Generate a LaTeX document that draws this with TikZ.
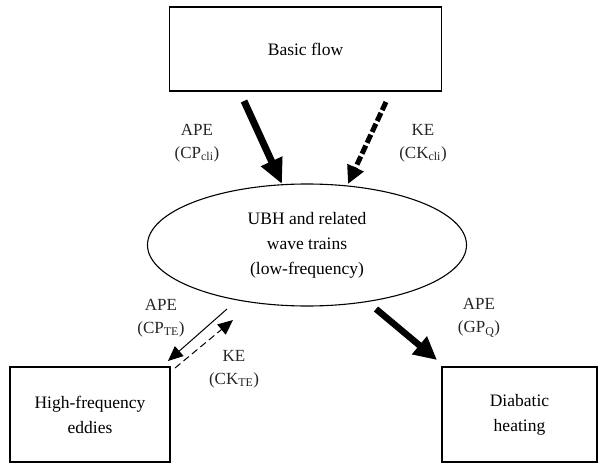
\documentclass[tikz,border=0pt]{standalone}
\usepackage{fontspec}
\setmainfont{Liberation Serif}
\usetikzlibrary{arrows.meta,shapes.geometric}
\tikzset{
	boxnode/.style={draw,line width=1.1pt,rectangle,inner sep=0pt,align=center,font=\fontsize{17.5}{25}\selectfont},
	lbl/.style={align=center,inner sep=0pt,text=black!85,font=\fontsize{17}{23}\selectfont},
	bigarrow/.style={line width=7pt,-{Triangle[length=25pt,width=22pt]}},
	bigdash/.style={line width=5pt,dash pattern=on 9pt off 3pt,-{Triangle[length=18pt,width=17pt]}},
	thinarrow/.style={line width=1pt,-{Triangle[length=15pt,width=13pt]}},
	thindash/.style={line width=1pt,dash pattern=on 7pt off 4pt,-{Triangle[length=15pt,width=13pt]}}
}
\begin{document}
\begin{tikzpicture}[x=1pt,y=-1pt]
	\useasboundingbox (0,0) rectangle (598,463);
	\node[boxnode,minimum width=272pt,minimum height=84pt] (basic) at (305.5,49){Basic flow};
	\node[boxnode,ellipse,minimum width=319pt,minimum height=122pt] (ubh) at (307,245){UBH and related\\wave trains\\(low-frequency)};
	\node[boxnode,minimum width=160pt,minimum height=95pt] (hfe) at (90,414.5){High-frequency\\eddies};
	\node[boxnode,minimum width=155pt,minimum height=95pt] (dh) at (519.5,414.5){Diabatic\\heating};
	% arrow ends
	\coordinate (cpS) at (244,101);
	\coordinate (cpE) at (282,184);
	\coordinate (ckS) at (386,102);
	\coordinate (ckE) at (348,184);
	\coordinate (teS) at (227,309);
	\coordinate (teE) at (168,361);
	\coordinate (tkS) at (175,368);
	\coordinate (tkE) at (233,320);
	\coordinate (gpS) at (376,309);
	\coordinate (gpE) at (437,360);
	\draw[bigarrow] (cpS)--(cpE);
	\draw[bigdash] (ckS)--(ckE);
	\draw[thinarrow] (teS)--(teE);
	\draw[thindash] (tkS)--(tkE);
	\draw[bigarrow,line width=6.5pt,-{Triangle[length=23pt,width=22pt]}] (gpS)--(gpE);
	% labels
	\node[lbl] (cpl) at (197,143){APE\\(CP\textsubscript{cli})};
	\node[lbl] (ckl) at (423,143){KE\\(CK\textsubscript{cli})};
	\node[lbl] (tel) at (161,318){APE\\(CP\textsubscript{TE})};
	\node[lbl] (tkl) at (234,369){KE\\(CK\textsubscript{TE})};
	\node[lbl] (gpl) at (479,318){APE\\(GP\textsubscript{Q})};
\end{tikzpicture}
\end{document}
